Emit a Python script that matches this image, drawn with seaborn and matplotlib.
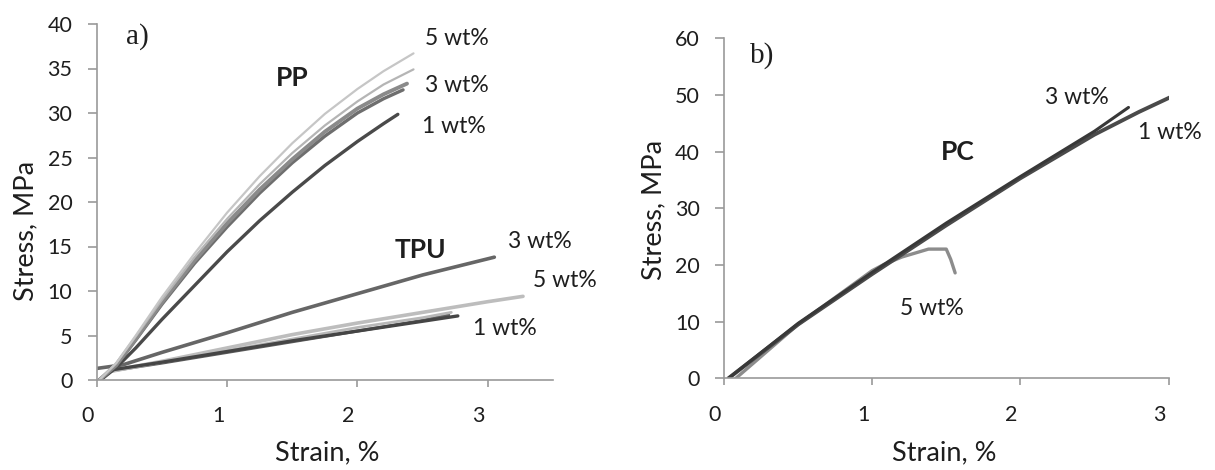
import matplotlib
matplotlib.use("Agg")
import matplotlib.pyplot as plt
from matplotlib.transforms import ScaledTranslation
import seaborn as sns
import pandas as pd

# ---------------- data (strain %, stress MPa) ----------------
# Panel a) PP
pp5_x = [0.02, 0.15, 0.3, 0.5, 0.75, 1.0, 1.25, 1.5, 1.75, 2.0, 2.2, 2.43]
pp5_y = [0.0, 1.9, 5.0, 9.3, 14.2, 18.8, 22.9, 26.6, 29.9, 32.7, 34.7, 36.7]
pp3a_x = [0.02, 0.15, 0.3, 0.5, 0.75, 1.0, 1.25, 1.5, 1.75, 2.0, 2.2, 2.43]
pp3a_y = [0.0, 1.9, 4.9, 9.0, 13.8, 18.1, 22.0, 25.5, 28.6, 31.3, 33.2, 34.9]
pp3b_x = [0.02, 0.15, 0.3, 0.5, 0.75, 1.0, 1.25, 1.5, 1.75, 2.0, 2.2, 2.38]
pp3b_y = [0.0, 1.7, 4.6, 8.7, 13.4, 17.6, 21.4, 24.8, 27.9, 30.5, 32.1, 33.3]
pp3c_x = [0.02, 0.15, 0.3, 0.5, 0.75, 1.0, 1.25, 1.5, 1.75, 2.0, 2.2, 2.35]
pp3c_y = [0.0, 1.6, 4.5, 8.5, 13.1, 17.2, 21.0, 24.4, 27.4, 30.0, 31.6, 32.6]
pp1_x = [0.03, 0.15, 0.3, 0.5, 0.75, 1.0, 1.25, 1.5, 1.75, 2.0, 2.2, 2.31]
pp1_y = [0.0, 1.4, 3.6, 6.8, 10.6, 14.4, 17.9, 21.1, 24.1, 26.8, 28.8, 29.85]

# Panel a) TPU
tpu3_x = [0.0, 0.2, 0.5, 1.0, 1.5, 2.0, 2.5, 3.05]
tpu3_y = [1.3, 1.7, 3.1, 5.3, 7.6, 9.7, 11.8, 13.8]
tpu5_x = [0.1, 0.5, 1.0, 1.5, 2.0, 2.5, 3.0, 3.27]
tpu5_y = [1.0, 2.1, 3.6, 5.1, 6.4, 7.6, 8.8, 9.4]
tpu5b_x = [0.1, 0.5, 1.0, 1.5, 2.0, 2.5, 2.72]
tpu5b_y = [0.9, 2.0, 3.3, 4.6, 5.9, 7.0, 7.6]
tpu1_x = [0.1, 0.5, 1.0, 1.5, 2.0, 2.5, 2.77]
tpu1_y = [1.1, 2.0, 3.2, 4.4, 5.5, 6.6, 7.2]
tpu1b_x = [0.1, 0.5, 1.0, 1.5, 2.0, 2.5, 2.7]
tpu1b_y = [1.0, 1.9, 3.1, 4.3, 5.5, 6.7, 7.3]

# Panel b) PC
pc1_x = [0.03, 0.5, 1.0, 1.5, 2.0, 2.5, 2.8, 3.02]
pc1_y = [0.0, 9.5, 18.4, 27.0, 35.3, 43.0, 47.0, 49.7]
pc3_x = [0.03, 0.5, 1.0, 1.5, 2.0, 2.5, 2.73]
pc3_y = [0.0, 9.7, 18.7, 27.4, 35.6, 43.6, 47.8]
pc5_x = [0.08, 0.5, 1.0, 1.08, 1.2, 1.38, 1.5, 1.53, 1.56]
pc5_y = [0.0, 9.5, 19.0, 20.1, 21.4, 22.8, 22.8, 21.0, 18.6]

a_xticks = [0, 1, 2, 3]
a_yticks = [0, 5, 10, 15, 20, 25, 30, 35, 40]
b_xticks = [0, 1, 2, 3]
b_yticks = [0, 10, 20, 30, 40, 50, 60]

# ---------------- styling ----------------
sns.set_theme(style="white")
plt.rcParams["font.family"] = ["Lato", "DejaVu Sans"]
TXT = "#1e1e1e"
SPINE = "#9a9a9a"

fig = plt.figure(figsize=(12.15, 4.70), dpi=100)
W, H = 1215, 470
axA = fig.add_axes([96.7 / W, 1 - 380 / H, (553 - 96.7) / W, (380 - 24) / H])
axB = fig.add_axes([724 / W, 1 - 378.3 / H, (1168.5 - 724) / W, (378.3 - 38.3) / H])


def draw(ax, xs, ys, color, lw):
    df = pd.DataFrame({"strain": xs, "stress": ys})
    sns.lineplot(data=df, x="strain", y="stress", ax=ax, color=color,
                 lw=lw, sort=False, estimator=None, solid_capstyle="round")


# panel a curves
draw(axA, tpu1b_x, tpu1b_y, "#606060", 2.2)
draw(axA, tpu5b_x, tpu5b_y, "#b8b8b8", 2.0)
draw(axA, tpu5_x, tpu5_y, "#bdbdbd", 2.6)
draw(axA, tpu1_x, tpu1_y, "#454545", 2.4)
draw(axA, tpu3_x, tpu3_y, "#666666", 2.6)
draw(axA, pp1_x, pp1_y, "#4a4a4a", 2.4)
draw(axA, pp3c_x, pp3c_y, "#6e6e6e", 2.4)
draw(axA, pp3b_x, pp3b_y, "#8a8a8a", 2.8)
draw(axA, pp3a_x, pp3a_y, "#b5b5b5", 1.6)
draw(axA, pp5_x, pp5_y, "#c6c6c6", 1.6)

# panel b curves
draw(axB, pc5_x, pc5_y, "#8c8c8c", 2.4)
draw(axB, pc1_x, pc1_y, "#4a4a4a", 2.8)
draw(axB, pc3_x, pc3_y, "#383838", 2.2)

xshift = ScaledTranslation(-9 / 100, 0, fig.dpi_scale_trans)
for ax, xt, yt, xl, yl in [(axA, a_xticks, a_yticks, (0, 3.5), (0, 40)),
                           (axB, b_xticks, b_yticks, (0, 3), (0, 60))]:
    ax.set_xlim(*xl)
    ax.set_ylim(*yl)
    ax.set_xticks(xt)
    ax.set_yticks(yt)
    ax.set_xticklabels([str(v) for v in xt])
    ax.set_yticklabels([str(v) for v in yt])
    for s in ["top", "right"]:
        ax.spines[s].set_visible(False)
    for s in ["left", "bottom"]:
        ax.spines[s].set_color(SPINE)
        ax.spines[s].set_linewidth(1.2)
    ax.tick_params(axis="x", direction="out", length=5, width=1.2, color=SPINE,
                   pad=14, labelsize=15.5, labelcolor=TXT, bottom=True)
    ax.tick_params(axis="y", direction="out", length=6.5, width=1.2, color=SPINE,
                   pad=11, labelsize=15.5, labelcolor=TXT, left=True)
    for lab in ax.get_xticklabels():
        lab.set_transform(lab.get_transform() + xshift)
    ax.set_xlabel("Strain, %", fontsize=19.5, color=TXT, va="center")
    ax.set_ylabel("Stress, MPa", fontsize=19.5, color=TXT, va="center")
    ax.grid(False)
    ax.set_facecolor("white")

axA.xaxis.set_label_coords(0.505, (380 - 453) / 356)
axA.yaxis.set_label_coords((25.5 - 96.7) / 456.3, 0.42)
axB.xaxis.set_label_coords(0.496, (378.3 - 453) / 340)
axB.yaxis.set_label_coords((654 - 724) / 444.5, 0.495)

# annotations
serif = ["Liberation Serif", "DejaVu Serif"]
axA.text(0.31, 38.6, "a)", fontsize=21, family=serif, color=TXT, ha="center", va="center")
axB.text(0.26, 57.0, "b)", fontsize=21, family=serif, color=TXT, ha="center", va="center")

bold = dict(fontsize=19, fontweight="bold", color=TXT, ha="center", va="center")
reg = dict(fontsize=16.5, color=TXT, ha="center", va="center")
axA.text(1.50, 33.9, "PP", **bold)
axA.text(2.48, 14.6, "TPU", **bold)
axA.text(2.76, 38.4, "5 wt%", **reg)
axA.text(2.76, 33.1, "3 wt%", **reg)
axA.text(2.74, 28.5, "1 wt%", **reg)
axA.text(3.40, 15.6, "3 wt%", **reg)
axA.text(3.59, 11.2, "5 wt%", **reg)
axA.text(3.13, 5.8, "1 wt%", **reg)
for t in axA.texts:
    t.set_clip_on(False)

axB.text(1.58, 39.9, "PC", **bold)
axB.text(2.38, 49.6, "3 wt%", **reg)
axB.text(3.01, 43.3, "1 wt%", **reg)
axB.text(1.40, 12.4, "5 wt%", **reg)
for t in axB.texts:
    t.set_clip_on(False)

fig.savefig("out.png", dpi=100, facecolor="white")
